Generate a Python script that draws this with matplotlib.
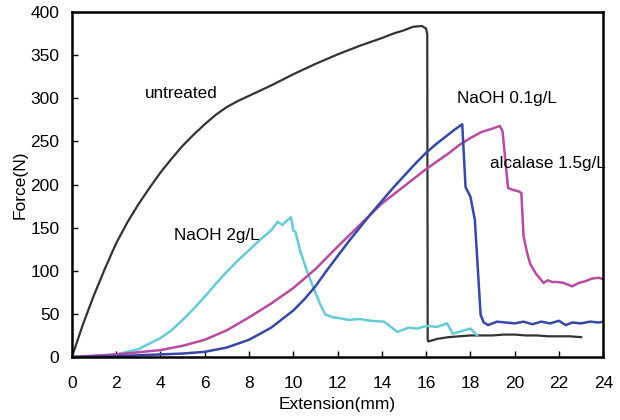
import matplotlib.pyplot as plt

plt.rcParams['font.family'] = ['Liberation Sans', 'DejaVu Sans']

# untreated
x_untreated = [0, 0.5, 1, 1.5, 2, 2.5, 3, 3.5, 4, 4.5, 5, 5.5, 6, 6.5, 7, 7.5, 8, 8.5, 9, 10, 11, 12, 13, 14, 14.5, 15,
               15.4, 15.8, 16.0, 16.05, 16.07, 16.1, 16.5, 17, 17.5, 18, 18.5, 19, 19.5, 20, 20.5, 21, 21.5, 22, 22.5, 23]
y_untreated = [0, 38, 72, 103, 132, 156, 177, 196, 214, 230, 245, 258, 270, 281, 290, 297, 303, 309, 315, 328, 340, 351, 361, 370, 375, 379,
               383, 384, 381, 374, 20, 18, 21, 23, 24, 25, 25, 25, 26, 26, 25, 25, 24, 24, 24, 23]

# NaOH 0.1g/L
x_naoh01 = [0, 2, 4, 5, 6, 7, 8, 9, 10, 10.5, 11, 11.5, 12, 12.5, 13, 13.5, 14, 14.5, 15, 15.5, 16, 16.5, 17, 17.3, 17.63,
            17.78, 18.0, 18.2, 18.46, 18.6, 18.8, 19.2, 19.6, 20, 20.4, 20.8, 21.2, 21.6, 22, 22.3, 22.6, 23, 23.4, 23.8, 24]
y_naoh01 = [0, 1, 3, 4, 6, 11, 20, 34, 54, 67, 82, 100, 117, 134, 150, 166, 181, 196, 210, 224, 237, 248, 258, 264, 270,
            197, 186, 159, 49, 40, 37, 41, 40, 39, 41, 38, 41, 39, 42, 37, 40, 39, 41, 40, 41]

# alcalase 1.5g/L
x_alcalase = [0, 2, 4, 5, 6, 7, 8, 9, 10, 11, 12, 13, 14, 15, 16, 17, 17.5, 18, 18.5, 19, 19.33,
              19.45, 19.7, 19.9, 20.2, 20.3, 20.4, 20.57, 20.7, 20.95, 21.3, 21.5, 21.7, 21.9, 22.2, 22.6, 22.9, 23.2, 23.5, 23.8, 24]
y_alcalase = [0, 3, 8, 13, 20, 31, 46, 62, 80, 102, 128, 153, 178, 198, 218, 236, 246, 254, 261, 265, 268,
              262, 196, 194, 192, 190, 140, 120, 108, 97, 86, 89, 87, 87, 86, 82, 86, 88, 91, 92, 90]

# NaOH 2g/L
x_naoh2 = [0, 1, 2, 3, 4, 4.5, 5, 5.5, 6, 6.5, 7, 7.5, 8, 8.5, 9, 9.3, 9.5, 9.7, 9.9, 10.0, 10.1, 10.3, 10.6, 10.9, 11.2, 11.45,
           11.8, 12.1, 12.5, 13, 13.5, 14.1, 14.4, 14.7, 15.2, 15.6, 16.0, 16.5, 16.95, 17.2, 17.6, 18.0, 18.3]
y_naoh2 = [0, 1, 3, 9, 22, 31, 43, 56, 70, 85, 99, 112, 124, 136, 147, 157, 153, 158, 162, 147, 145, 124, 101, 81, 62, 49,
           46, 45, 43, 44, 42, 41, 35, 29, 34, 33, 36, 35, 39, 27, 30, 33, 25]

fig, ax = plt.subplots(figsize=(6.2, 4.2), dpi=100)
fig.subplots_adjust(left=0.116, right=0.973, bottom=0.15, top=0.971)

ax.plot(x_untreated, y_untreated, color='#333333', lw=1.6)
ax.plot(x_naoh2, y_naoh2, color='#66cbd5', lw=1.8)
ax.plot(x_alcalase, y_alcalase, color='#b94aa2', lw=1.8)
ax.plot(x_naoh01, y_naoh01, color='#3548a6', lw=1.8)

ax.text(3.3, 306, 'untreated', fontsize=12.3, va='center')
ax.text(17.4, 300, 'NaOH 0.1g/L', fontsize=12.3, va='center')
ax.text(18.9, 225, 'alcalase 1.5g/L', fontsize=12.3, va='center')
ax.text(4.6, 141, 'NaOH 2g/L', fontsize=12.3, va='center')

ax.set_xlim(0, 24)
ax.set_ylim(0, 400)
ax.set_xticks(range(0, 25, 2))
ax.set_yticks(range(0, 401, 50))
ax.tick_params(direction='in', length=4, width=1, labelsize=12.5)
ax.tick_params(axis='x', pad=14)
ax.tick_params(axis='y', pad=9)
for s in ax.spines.values():
    s.set_linewidth(1.8)
ax.set_xlabel('Extension(mm)', fontsize=12.5, labelpad=4)
ax.set_ylabel('Force(N)', fontsize=12.5, labelpad=2)

plt.savefig('out.png')
